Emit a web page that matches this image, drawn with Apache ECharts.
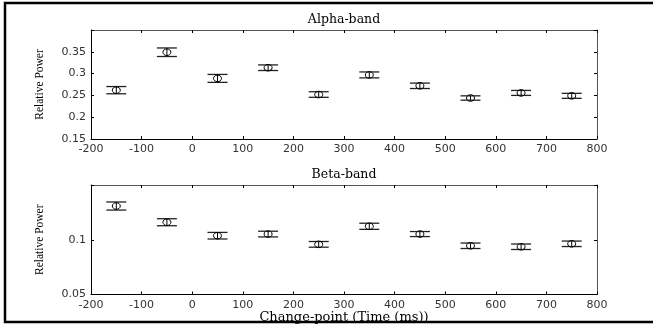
<!DOCTYPE html>
<html>
<head>
<meta charset="utf-8">
<script src="https://cdn.jsdelivr.net/npm/echarts@6/dist/echarts.min.js"></script>
<style>
html,body{margin:0;padding:0;background:#fff;overflow:hidden;}
#chart{width:653px;height:334px;}
</style>
</head>
<body>
<div id="chart"></div>
<script>
// Change-point times (ms)
const times = [-150, -50, 50, 150, 250, 350, 450, 550, 650, 750];
// Alpha-band relative power: mean and error half-width
const alphaMean = [0.262, 0.349, 0.289, 0.3135, 0.252, 0.297, 0.272, 0.244, 0.2557, 0.249];
const alphaErr  = [0.0083, 0.0098, 0.0091, 0.0064, 0.0064, 0.0068, 0.0062, 0.005, 0.0057, 0.0057];
// Beta-band relative power: mean and error half-width
const betaMean = [0.1308, 0.116, 0.1037, 0.1052, 0.0958, 0.1123, 0.1052, 0.0945, 0.0936, 0.0963];
const betaErr  = [0.0037, 0.0032, 0.003, 0.0026, 0.0026, 0.0028, 0.0023, 0.0025, 0.0025, 0.0025];
// Axis ranges / ticks
const xRange = {min: -200, max: 800, interval: 100};
const alphaRange = {min: 0.15, max: 0.4, interval: 0.05};
const betaRange = {min: 0.05, max: 0.15, interval: 0.05};
const titles = ['Alpha-band', 'Beta-band'];
const yName = 'Relative Power';
const xName = 'Change-point (Time (ms))';

const chart = echarts.init(document.getElementById('chart'), null, {renderer: 'canvas'});

function renderItem(params, api) {
  const x = api.value(0), y = api.value(1), e = api.value(2);
  const c = api.coord([x, y]);
  const hi = api.coord([x, y + e]);
  const lo = api.coord([x, y - e]);
  const hw = 10;
  const st = {stroke: '#000', lineWidth: 1, fill: null};
  return {type: 'group', children: [
    {type: 'line', shape: {x1: c[0], y1: hi[1], x2: c[0], y2: lo[1]}, style: st},
    {type: 'line', shape: {x1: c[0] - hw, y1: hi[1], x2: c[0] + hw, y2: hi[1]}, style: {stroke: '#222', lineWidth: 1.3}},
    {type: 'line', shape: {x1: c[0] - hw, y1: lo[1], x2: c[0] + hw, y2: lo[1]}, style: {stroke: '#222', lineWidth: 1.3}},
    {type: 'ellipse', shape: {cx: c[0], cy: c[1], rx: 4, ry: 3.3}, style: {stroke: '#000', lineWidth: 1, fill: 'rgba(0,0,0,0)'}}
  ]};
}

const labelFont = {fontFamily: 'DejaVu Sans', fontSize: 11, color: '#333'};
function xAxisDef(gi, pos, showLabel, name) {
  return Object.assign({
    type: 'value', gridIndex: gi, position: pos,
    axisLine: {show: true, onZero: false, lineStyle: {color: pos === 'bottom' ? '#000' : '#555', width: 1}},
    axisTick: {show: true, inside: true, length: 3, lineStyle: {color: '#000'}},
    axisLabel: Object.assign({show: showLabel, margin: 5}, labelFont),
    splitLine: {show: false},
    name: name || '', nameLocation: 'middle', nameGap: 17,
    nameTextStyle: {fontFamily: 'DejaVu Serif', fontSize: 13, color: '#000'}
  }, xRange);
}
function yAxisDef(gi, pos, showLabel, range) {
  return Object.assign({
    type: 'value', gridIndex: gi, position: pos,
    axisLine: {show: true, onZero: false, lineStyle: {color: pos === 'left' ? '#000' : '#555', width: 1}},
    axisTick: {show: true, inside: true, length: 3, lineStyle: {color: '#000'}},
    axisLabel: Object.assign({show: showLabel, margin: 5,
      formatter: function (v) { return v >= range.max - 1e-9 ? '' : String(+v.toFixed(2)); }}, labelFont),
    splitLine: {show: false},
    name: pos === 'left' ? yName : '', nameLocation: 'middle', nameGap: 45, nameRotate: 90,
    nameTextStyle: {fontFamily: 'Liberation Serif', fontSize: 11.5, color: '#000'}
  }, range);
}

const option = {
  backgroundColor: '#fff',
  animation: false,
  grid: [
    {left: 91, top: 30, width: 506, height: 109},
    {left: 91, top: 185, width: 506, height: 109.5}
  ],
  xAxis: [
    xAxisDef(0, 'bottom', true),
    xAxisDef(0, 'top', false),
    xAxisDef(1, 'bottom', true, xName),
    xAxisDef(1, 'top', false)
  ],
  yAxis: [
    yAxisDef(0, 'left', true, alphaRange),
    yAxisDef(0, 'right', false, alphaRange),
    yAxisDef(1, 'left', true, betaRange),
    yAxisDef(1, 'right', false, betaRange)
  ],
  graphic: [
    {type: 'polyline', shape: {points: [[660, 3], [5, 3], [5, 322], [660, 322]]}, style: {fill: null, stroke: '#000', lineWidth: 2.5}, silent: true},
    {type: 'text', x: 344, y: 20, style: {text: titles[0], fontFamily: 'DejaVu Serif', fontSize: 12.5, fill: '#000', textAlign: 'center', textVerticalAlign: 'middle'}},
    {type: 'text', x: 344, y: 175, style: {text: titles[1], fontFamily: 'DejaVu Serif', fontSize: 12.5, fill: '#000', textAlign: 'center', textVerticalAlign: 'middle'}}
  ],
  series: [
    {type: 'custom', xAxisIndex: 0, yAxisIndex: 0, renderItem: renderItem,
     data: times.map((t, i) => [t, alphaMean[i], alphaErr[i]])},
    {type: 'custom', xAxisIndex: 2, yAxisIndex: 2, renderItem: renderItem,
     data: times.map((t, i) => [t, betaMean[i], betaErr[i]])}
  ]
};
chart.setOption(option);
</script>
</body>
</html>
